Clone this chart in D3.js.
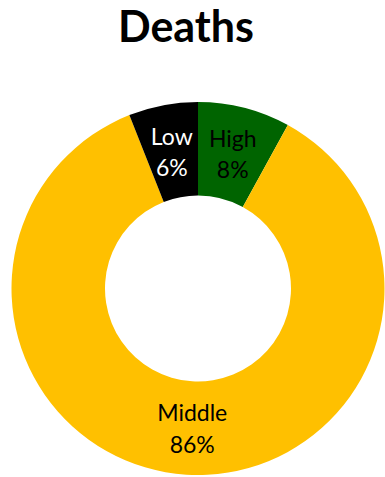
<!DOCTYPE html>
<html>
<head>
<meta charset="utf-8">
<script src="https://cdn.jsdelivr.net/npm/d3@7"></script>
<style>
  body { margin: 0; background: #fff; }
  text { font-family: Lato, "Open Sans", sans-serif; }
</style>
</head>
<body>
<svg width="385" height="477"></svg>
<script>
var categories = ["High", "Middle", "Low"];
var shares = [8, 86, 6];
var colors = ["#006400", "#FFC000", "#000000"];
var labelColors = ["#000", "#000", "#fff"];

var svg = d3.select("svg"),
    width = +svg.attr("width"),
    height = +svg.attr("height");

svg.append("text")
    .attr("x", 186)
    .attr("y", 42)
    .attr("text-anchor", "middle")
    .attr("font-weight", "bold")
    .attr("font-size", 43)
    .text("Deaths");

var outer = 186.5, inner = 93;
var g = svg.append("g").attr("transform", "translate(198,288.5)");

var data = categories.map(function(c, i) { return {name: c, value: shares[i], i: i}; });
var pie = d3.pie().sort(null).value(function(d) { return d.value; });
var arc = d3.arc().innerRadius(inner).outerRadius(outer);

var slices = g.selectAll(".slice").data(pie(data)).enter().append("g").attr("class", "slice");

slices.append("path")
    .attr("d", arc)
    .attr("fill", function(d) { return colors[d.data.i]; });

var lab = slices.append("text")
    .attr("text-anchor", "middle")
    .attr("font-size", 23)
    .attr("fill", function(d) { return labelColors[d.data.i]; })
    .attr("transform", function(d) {
      var c = arc.centroid(d);
      if (d.data.name === "Middle") c[0] += 3;
      return "translate(" + c[0] + "," + c[1] + ")";
    });

lab.append("tspan").attr("x", 0).attr("y", -6.5).text(function(d) { return d.data.name; });
lab.append("tspan").attr("x", 0).attr("y", 25).text(function(d) { return d.data.value + "%"; });
</script>
</body>
</html>
